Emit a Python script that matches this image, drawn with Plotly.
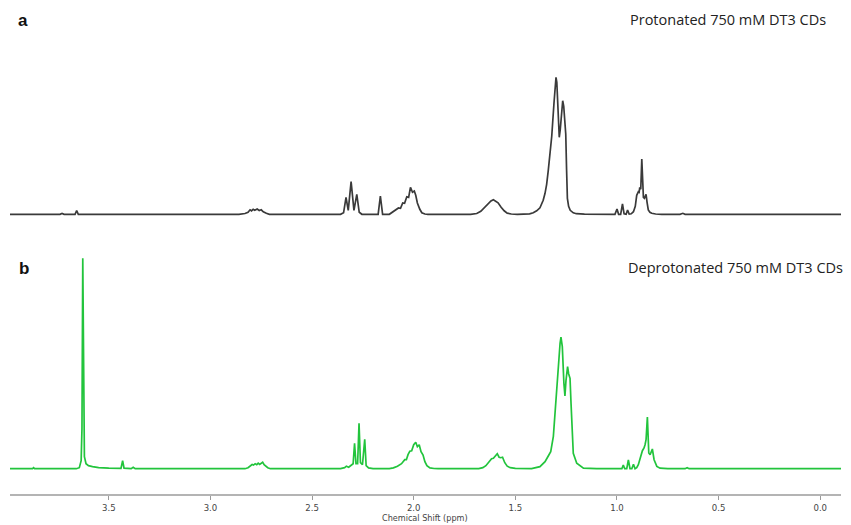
import plotly.graph_objects as go

# ---------------- data ----------------
# Chemical shift (ppm) and intensity (arbitrary units) for the protonated spectrum (a)
ppm_a = [3.986, 3.74, 3.73, 3.72, 3.666, 3.658, 3.650, 3.45, 2.86, 2.83, 2.815, 2.805, 2.798,
         2.79, 2.782, 2.77, 2.76, 2.75, 2.74, 2.725, 2.71,
         2.36, 2.345, 2.333, 2.322, 2.308, 2.294, 2.28, 2.268, 2.255,
         2.175, 2.164, 2.153,
         2.12, 2.108, 2.09, 2.075, 2.065, 2.054, 2.045, 2.034, 2.025, 2.016, 2.006, 1.997,
         1.99, 1.982, 1.97, 1.96, 1.945, 1.93,
         1.72, 1.69, 1.67, 1.65, 1.635, 1.62, 1.608, 1.595, 1.585, 1.57, 1.555, 1.54, 1.52, 1.49,
         1.46, 1.43, 1.412, 1.395, 1.379, 1.363, 1.354, 1.346, 1.338, 1.33, 1.321, 1.31, 1.304,
         1.300, 1.296, 1.29, 1.284, 1.279, 1.273, 1.267, 1.262, 1.258, 1.256, 1.252, 1.248,
         1.244, 1.238, 1.23, 1.215, 1.2, 1.16, 1.1,
         1.01, 1.0, 0.992, 0.982, 0.973, 0.965, 0.955, 0.948, 0.94,
         0.93, 0.919, 0.91, 0.903, 0.895, 0.891, 0.888, 0.883, 0.878, 0.874, 0.870, 0.865,
         0.861, 0.857, 0.852, 0.846, 0.838, 0.829, 0.81, 0.78,
         0.69, 0.676, 0.665, -0.102]
int_a = [0, 0, 0.8, 0, 0, 3.8, 0, 0, 0, 0.8, 2, 4.5, 3.5,
         5, 4, 5.2, 3.8, 4.5, 2.5, 1, 0,
         0, 1.5, 17, 4, 32.6, 4, 20, 2, 0,
         0, 18.3, 0,
         0, 1.5, 4, 6.3, 6, 11.3, 11, 17.6, 17, 27, 22, 23.3,
         19, 11.3, 5, 1.5, 0.3, 0,
         0, 0.8, 3, 7.5, 11, 13.3, 14.5, 12.5, 11.5, 7, 3.5, 1.2, 0.3, 0,
         0, 0.5, 1.5, 3.5, 6.5, 14, 21, 30, 44, 60, 78, 111, 128,
         137, 132, 105, 77, 85, 105, 113.6, 108, 97, 96, 80, 45,
         16, 8, 4, 1.5, 0.6, 0.2, 0,
         0, 5.3, 0, 0, 10.3, 0.5, 0, 4.3, 0.3,
         0.5, 2.6, 8, 19, 22.6, 22, 27, 25, 55.3, 30, 17, 16,
         18, 20, 12, 4.3, 2, 1, 0.3, 0,
         0, 1, 0, 0]

# Deprotonated spectrum (b)
ppm_b = [3.986, 3.875, 3.87, 3.865, 3.66, 3.645, 3.636, 3.632, 3.628, 3.624, 3.62, 3.612,
         3.6, 3.58, 3.55, 3.5, 3.44, 3.432, 3.425, 3.39, 3.38, 3.37,
         2.83, 2.815, 2.805, 2.795, 2.788, 2.78, 2.772, 2.765, 2.758, 2.75, 2.743, 2.736,
         2.728, 2.718, 2.705,
         2.36, 2.34, 2.331, 2.32, 2.306, 2.298, 2.291, 2.284, 2.276, 2.269, 2.262, 2.252,
         2.241, 2.234, 2.222, 2.2,
         2.12, 2.1, 2.08, 2.06, 2.044, 2.036, 2.028, 2.019, 2.01, 2.0, 1.99, 1.982, 1.973,
         1.964, 1.954, 1.945, 1.935, 1.92, 1.9, 1.88,
         1.68, 1.66, 1.645, 1.63, 1.617, 1.608, 1.6, 1.589, 1.58, 1.572, 1.563, 1.552, 1.54,
         1.525, 1.5, 1.47,
         1.42, 1.379, 1.354, 1.338, 1.326, 1.313, 1.302, 1.292, 1.280, 1.2755, 1.269, 1.261,
         1.256, 1.251, 1.243, 1.238, 1.231, 1.226, 1.221, 1.215, 1.198, 1.165, 1.1,
         0.99, 0.976, 0.969, 0.962, 0.952, 0.944, 0.936, 0.927, 0.919, 0.911,
         0.903, 0.895, 0.875, 0.867, 0.862, 0.857, 0.8505, 0.8436, 0.837, 0.826, 0.8175,
         0.804, 0.788, 0.75,
         0.665, 0.655, 0.645, -0.102]
int_b = [0, 0, 1, 0, 0, 1, 8, 40, 210.4, 40, 12, 5,
         3, 2, 1, 0.5, 0.3, 8, 0.5, 0, 1.5, 0,
         0, 1, 3, 4.2, 3.6, 5, 4, 5.5, 4.2, 5.8, 6.5, 4,
         2.5, 1, 0,
         0, 1, 2.5, 1.5, 3.5, 5, 25.4, 5, 5, 45.4, 6, 4,
         29.4, 3, 0.8, 0,
         0, 0.8, 2.5, 5, 9, 9, 14, 17.5, 18, 24, 26.5, 22, 24,
         17, 13.7, 7, 3, 0.8, 0.2, 0,
         0, 1, 3, 6.5, 10, 10.5, 12, 15, 11.5, 11, 11.5, 6, 2.5,
         1, 0.3, 0,
         0, 2, 7, 12.7, 17, 32.4, 65.4, 98.7, 125.4, 131.5, 122, 85,
         72.7, 88, 102, 95, 90.4, 65, 32, 15.4, 5.4, 0.5, 0,
         0, 0, 3.7, 0, 0, 8.7, 0, 0, 4.4, 0,
         1, 4, 18, 20.7, 24, 29, 51.7, 15.7, 14, 19.7, 9,
         2.3, 0.5, 0,
         0, 1, 0, 0]

x_ticks = [3.5, 3.0, 2.5, 2.0, 1.5, 1.0, 0.5, 0.0]
x_tick_labels = ["3.5", "3.0", "2.5", "2.0", "1.5", "1.0", "0.5", "0.0"]

label_a = "a"
label_b = "b"
title_a = "Protonated 750 mM DT3 CDs"
title_b = "Deprotonated 750 mM DT3 CDs"
x_title = "Chemical Shift (ppm)"

# ---------------- layout geometry ----------------
W, H = 851, 525
M_L, M_R, M_T, M_B = 10, 10, 0, 31
PLOT_H = H - M_T - M_B
PLOT_W = W - M_L - M_R


def y_range(d0, d1, baseline_px):
    bottom_px = M_T + PLOT_H * (1 - d0)
    h = PLOT_H * (d1 - d0)
    r0 = -(bottom_px - baseline_px)
    return [r0, r0 + h]


def px_x(x):
    return (x - M_L) / PLOT_W


def px_y(y):
    return 1 - (y - M_T) / PLOT_H


dom_a = [0.53, 1.0]
dom_b = [0.0, 0.5]

fig = go.Figure()
fig.add_trace(go.Scatter(x=ppm_a, y=int_a, mode="lines", xaxis="x", yaxis="y2",
                         line=dict(color="#3a3a3a", width=1.7), hoverinfo="skip",
                         showlegend=False))
fig.add_trace(go.Scatter(x=ppm_b, y=int_b, mode="lines", xaxis="x", yaxis="y",
                         line=dict(color="#22c43c", width=1.7), hoverinfo="skip",
                         showlegend=False))

axis_font = "DejaVu Sans Condensed, Liberation Sans Narrow, Arial Narrow, sans-serif"
fig.update_layout(
    width=W, height=H,
    margin=dict(l=M_L, r=M_R, t=M_T, b=M_B),
    paper_bgcolor="white", plot_bgcolor="white",
    hovermode=False,
    xaxis=dict(range=[3.986, -0.102], tickvals=x_ticks, ticktext=x_tick_labels,
               showgrid=False, zeroline=False, showline=True, linecolor="#b4b4b4",
               linewidth=2, ticks="outside", ticklen=4, tickcolor="#9a9a9a",
               tickwidth=1, tickfont=dict(family=axis_font, size=9.5, color="#444"),
               anchor="y", automargin=False, fixedrange=True),
    yaxis=dict(domain=dom_b, range=y_range(*dom_b, 468.7), visible=False,
               fixedrange=True),
    yaxis2=dict(domain=dom_a, range=y_range(*dom_a, 214.3), visible=False,
                anchor="x", fixedrange=True),
)

fig.add_annotation(text=x_title, xref="paper", yref="paper",
                   x=px_x(425), y=px_y(518), xanchor="center", yanchor="middle",
                   showarrow=False, font=dict(family=axis_font, size=9, color="#444"))
fig.add_annotation(text="<b>" + label_a + "</b>", xref="paper", yref="paper",
                   x=px_x(22.7), y=px_y(20), xanchor="center", yanchor="middle",
                   showarrow=False,
                   font=dict(family="Liberation Sans, Arial", size=17, color="#111"))
fig.add_annotation(text="<b>" + label_b + "</b>", xref="paper", yref="paper",
                   x=px_x(23.5), y=px_y(268), xanchor="center", yanchor="middle",
                   showarrow=False,
                   font=dict(family="Liberation Sans, Arial", size=17, color="#111"))
fig.add_annotation(text=title_a, xref="paper", yref="paper",
                   x=px_x(828), y=px_y(19.5), xanchor="right", yanchor="middle",
                   showarrow=False,
                   font=dict(family="Open Sans, Liberation Sans", size=14.5, color="#222"))
fig.add_annotation(text=title_b, xref="paper", yref="paper",
                   x=px_x(845), y=px_y(267), xanchor="right", yanchor="middle",
                   showarrow=False,
                   font=dict(family="Open Sans, Liberation Sans", size=14.5, color="#222"))

fig.write_html("out.html", config={"displayModeBar": False, "staticPlot": True},
               post_script="document.body.style.margin='0';document.body.style.padding='0';")
